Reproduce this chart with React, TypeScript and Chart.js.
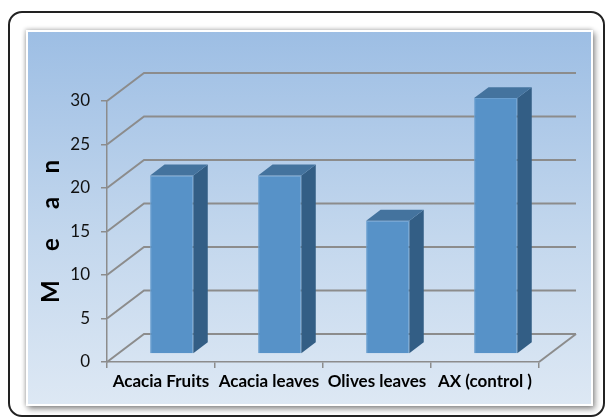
import React, { useEffect, useRef } from "react";
import { Chart, registerables } from "chart.js";

Chart.register(...registerables);

const categories = ["Acacia Fruits", "Acacia leaves", "Olives leaves", "AX (control )"];
const meanValues = [20.5, 20.5, 15.3, 29.4];
const yMin = 0;
const yMax = 30;
const yStep = 5;
const yTitle = "M     e     a    n";

const DEPTH = { x: 37, y: -28 };
const BAR_FRONT = 0.29;
const BAR_BACK = 0.68;
const FRONT_COLOR = "#5792c8";
const SIDE_COLOR = "#335e85";
const TOP_COLOR = "#44739e";
const GRID_COLOR = "#8c8c8c";

const threeD = {
  id: "threeD",
  beforeDatasetsDraw(chart: any) {
    const { ctx, chartArea: a, scales } = chart;
    const y = scales.y;
    ctx.save();
    ctx.strokeStyle = GRID_COLOR;
    ctx.lineWidth = 2;
    y.ticks.forEach((t: any) => {
      const py = y.getPixelForValue(t.value);
      ctx.beginPath();
      ctx.moveTo(a.left, py);
      ctx.lineTo(a.left + DEPTH.x, py + DEPTH.y);
      ctx.lineTo(a.right + DEPTH.x, py + DEPTH.y);
      ctx.stroke();
    });
    ctx.beginPath();
    ctx.moveTo(a.right, a.bottom);
    ctx.lineTo(a.right + DEPTH.x, a.bottom + DEPTH.y);
    ctx.stroke();
    ctx.restore();
    ctx.save();
    ctx.translate(DEPTH.x * BAR_FRONT, DEPTH.y * BAR_FRONT);
  },
  afterDatasetsDraw(chart: any) {
    const { ctx } = chart;
    ctx.restore();
    const meta = chart.getDatasetMeta(0);
    const fx = DEPTH.x * BAR_FRONT;
    const fy = DEPTH.y * BAR_FRONT;
    const dx = DEPTH.x * (BAR_BACK - BAR_FRONT);
    const dy = DEPTH.y * (BAR_BACK - BAR_FRONT);
    ctx.save();
    meta.data.forEach((bar: any) => {
      const { x, y, base, width } = bar.getProps(["x", "y", "base", "width"], true);
      const l = x - width / 2 + fx;
      const r = x + width / 2 + fx;
      const t = y + fy;
      const b = base + fy;
      ctx.fillStyle = SIDE_COLOR;
      ctx.beginPath();
      ctx.moveTo(r, t);
      ctx.lineTo(r + dx, t + dy);
      ctx.lineTo(r + dx, b + dy);
      ctx.lineTo(r, b);
      ctx.closePath();
      ctx.fill();
      ctx.fillStyle = TOP_COLOR;
      ctx.beginPath();
      ctx.moveTo(l, t);
      ctx.lineTo(l + dx, t + dy);
      ctx.lineTo(r + dx, t + dy);
      ctx.lineTo(r, t);
      ctx.closePath();
      ctx.fill();
    });
    ctx.restore();
  },
};

export default function App() {
  const canvasRef = useRef<HTMLCanvasElement | null>(null);

  useEffect(() => {
    if (!canvasRef.current) return;
    const chart = new Chart(canvasRef.current, {
      type: "bar",
      data: {
        labels: categories,
        datasets: [
          {
            label: "Mean",
            data: meanValues,
            backgroundColor: FRONT_COLOR,
            borderColor: "#6a9fd0",
            borderWidth: 1,
            categoryPercentage: 1,
            barPercentage: 0.4,
            clip: false as any,
          },
        ],
      },
      options: {
        responsive: false,
        animation: false,
        layout: { padding: { top: 101, right: 68, bottom: 0, left: 0 } },
        plugins: { legend: { display: false }, tooltip: { enabled: false } },
        scales: {
          x: {
            grid: { drawOnChartArea: false, drawTicks: true, tickLength: 6, color: GRID_COLOR, lineWidth: 1.5 },
            border: { display: true, color: GRID_COLOR, width: 1.5 },
            ticks: { color: "#000", padding: 3, font: { family: "Lato", size: 17, weight: "bold" } },
            afterFit: (s: any) => {
              s.height = 58;
            },
          },
          y: {
            min: yMin,
            max: yMax,
            grid: { drawOnChartArea: false, drawTicks: true, tickLength: 6, color: GRID_COLOR, lineWidth: 1.5 },
            border: { display: true, color: GRID_COLOR, width: 1.5 },
            ticks: { stepSize: yStep, color: "#111", padding: 11, font: { family: "Lato", size: 17 } },
            title: {
              display: true,
              text: yTitle,
              color: "#000",
              font: { family: "Lato", size: 24, weight: "bold" },
              padding: { top: 37, bottom: 0 },
            },
            afterFit: (s: any) => {
              s.width = 107;
            },
          },
        },
      },
      plugins: [threeD],
    });
    return () => chart.destroy();
  }, []);

  return (
    <div style={{ position: "absolute", left: 0, top: 0, width: 607, height: 420, background: "#fff", overflow: "hidden" }}>
      <div
        style={{
          position: "absolute",
          left: 8,
          top: 11,
          width: 597,
          height: 406,
          boxSizing: "border-box",
          border: "2px solid #222",
          borderRadius: 14,
          background: "#fff",
        }}
      />
      <div
        style={{
          position: "absolute",
          left: 26,
          top: 30,
          width: 567,
          height: 376,
          boxSizing: "border-box",
          border: "2px solid #fff",
          background: "linear-gradient(to bottom, #9dbee4 0%, #c3d7ed 55%, #dde8f4 100%)",
          boxShadow: "2px 3px 6px rgba(0,0,0,0.45), -1px -1px 4px rgba(0,0,0,0.2)",
        }}
      />
      <canvas ref={canvasRef} width={607} height={420} style={{ position: "absolute", left: 0, top: 0 }} />
    </div>
  );
}
